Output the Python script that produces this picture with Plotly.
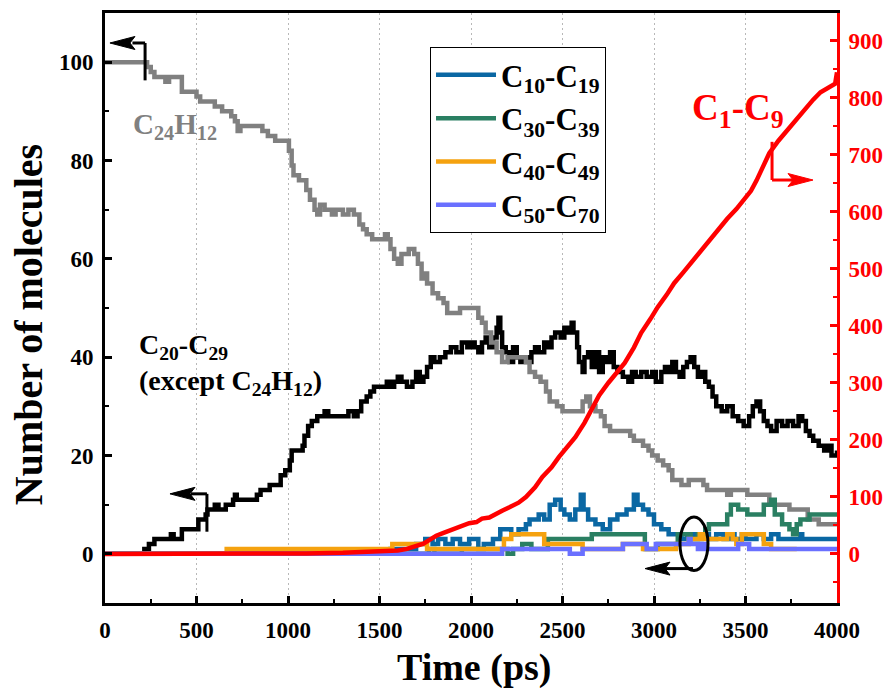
import plotly.graph_objects as go

# ---------------- data ----------------
t_gray = [0,230,250,270,330,350,420,500,520,600,640,690,710,725,740,860,890,930,1005,1020,1030,1060,1100,1120,1145,1160,1175,1200,1240,1260,1300,1330,1360,1390,1410,1430,1460,1530,1545,1560,1580,1600,1620,1660,1690,1710,1730,1745,1760,1790,1820,1850,1870,1940,2020,2040,2060,2080,2110,2140,2170,2200,2300,2320,2350,2380,2410,2430,2470,2500,2590,2610,2630,2650,2680,2710,2730,2760,2870,2890,2940,2970,2990,3020,3050,3080,3100,3150,3190,3270,3290,3400,3420,3450,3510,3630,3740,3840,3900,4000]
v_gray = [100,99,98,97,96,97,94,93,92,91,90,89,88,86,87,86,85,84,82,79,77,76,74,72,70,69,71,70,69,70,69,70,69,67,66,65,64,65,64,62,60,59,61,62,61,59,56,57,55,53,52,51,49,50,50,48,47,45,43,41,39,40,39,37,36,35,33,31,30,29,29,31,32,30,29,28,26,25,24,23,22,21,20,19,18,17,15,14,15,14,13,12,13,13,12,10,9,7,6,6]

t_black = [0,215,240,270,350,360,375,420,510,550,560,600,620,660,700,710,720,830,850,900,960,985,1010,1020,1080,1090,1110,1130,1160,1200,1220,1300,1330,1360,1380,1400,1430,1450,1470,1540,1560,1580,1600,1620,1650,1680,1700,1720,1740,1760,1780,1800,1830,1860,1890,1920,1950,1980,2000,2020,2040,2060,2080,2100,2120,2140,2150,2160,2170,2190,2210,2230,2250,2270,2290,2310,2330,2350,2370,2400,2420,2440,2460,2490,2510,2530,2550,2560,2580,2590,2610,2620,2640,2660,2680,2700,2720,2740,2760,2780,2800,2830,2860,2880,2900,2930,2960,2990,3010,3040,3060,3080,3100,3120,3140,3160,3180,3200,3220,3240,3260,3280,3300,3320,3340,3370,3400,3430,3460,3490,3520,3540,3560,3580,3600,3620,3640,3670,3700,3730,3760,3790,3810,3830,3850,3870,3900,3930,3950,3970,4000]
v_black = [0,1,2,3,3,4,3,5,7,8,9,10,9,10,11,12,11,12,13,14,16,17,19,21,22,24,26,27,28,29,28,28,29,28,29,31,32,33,34,35,34,35,36,35,34,35,37,35,36,38,40,39,40,41,42,41,43,42,43,42,41,43,44,42,44,46,48,45,42,41,39,42,40,39,40,39,41,42,41,43,42,44,45,44,46,45,47,45,42,39,37,40,41,38,41,37,40,39,41,38,37,36,35,37,36,37,36,37,35,37,38,37,39,37,36,38,39,40,38,36,37,35,34,32,30,29,30,28,27,26,28,30,31,29,27,26,25,27,26,27,26,28,27,25,24,23,22,21,22,20,21]

t_c10 = [0,1560,1700,1750,1790,1820,1860,1900,1940,1990,2040,2070,2120,2160,2220,2260,2300,2320,2370,2400,2430,2460,2490,2510,2540,2570,2600,2615,2640,2680,2720,2760,2800,2850,2890,2910,2940,2970,3000,3040,3080,3150,3180,3220,3260,3300,3340,3380,3420,3440,3480,3500,3560,3600,3640,3680,3800,3810,4000]
v_c10 = [0,1,2,3,2,3,2,3,2,3,1,2,3,5,4,5,6,7,8,7,10,11,9,8,7,9,12,9,7,6,5,7,8,9,12,10,9,8,6,5,4,3,4,3,4,3,4,3,4,3,4,3,4,3,4,3,4,3,3]

t_c30 = [0,1770,1800,1950,2200,2230,2280,2330,2420,2660,2950,3020,3130,3200,3240,3280,3300,3400,3420,3460,3510,3600,3640,3660,3700,3740,3760,3780,3800,3850,4000]
v_c30 = [0,1,0,1,0,1,2,1,3,4,1,2,4,3,4,5,6,8,10,9,8,10,11,8,6,5,4,6,7,8,8]

t_c40 = [0,665,1570,1760,2180,2220,2400,2610,2830,2940,3120,3190,3250,3270,3400,3430,3450,3480,3600,3640,3780]
v_c40 = [0,1,2,1,3,4,2,1,2,1,2,3,4,3,4,3,2,4,2,1,1]

t_c50 = [0,2170,2540,2610,2830,2960,3010,3190,3200,3240,3260,3280,3460,3520,4000]
v_c50 = [0,1,0,1,2,1,2,3,2,1,2,1,2,1,1]

t_red = [0,1000,1100,1300,1500,1600,1650,1700,1740,1780,1810,1850,1900,1950,1990,2030,2060,2100,2130,2170,2210,2260,2300,2350,2390,2440,2480,2530,2570,2620,2660,2700,2750,2800,2840,2890,2930,2980,3020,3070,3110,3160,3200,3250,3290,3330,3400,3450,3490,3530,3560,3600,3630,3680,3730,3790,3840,3870,3910,3960,3990,4000]
v_red = [0,0,1,2,4,6,9,13,18,26,32,37,43,48,54,56,62,64,70,76,82,90,100,117,135,152,170,188,205,230,253,278,300,318,335,362,388,412,433,455,475,494,510,528,545,560,588,605,620,637,655,682,703,725,744,768,784,797,810,820,825,845]

x_ticks = [0, 500, 1000, 1500, 2000, 2500, 3000, 3500, 4000]

FONT = "Liberation Serif"
LW = 4.5

fig = go.Figure()

fig.add_trace(go.Scatter(x=t_black, y=v_black, mode="lines", line=dict(color="black", width=LW, shape="hv"),
                         showlegend=False, name="C20-C29"))
fig.add_trace(go.Scatter(x=t_gray, y=v_gray, mode="lines", line=dict(color="#808080", width=LW, shape="hv"),
                         showlegend=False, name="C24H12"))
fig.add_trace(go.Scatter(x=t_c10, y=v_c10, mode="lines", line=dict(color="#0a67a3", width=LW, shape="hv"),
                         name="C<sub>10</sub>-C<sub>19</sub>"))
fig.add_trace(go.Scatter(x=t_c30, y=v_c30, mode="lines", line=dict(color="#2a7f62", width=LW, shape="hv"),
                         name="C<sub>30</sub>-C<sub>39</sub>"))
fig.add_trace(go.Scatter(x=t_c40, y=v_c40, mode="lines", line=dict(color="#f5a20f", width=LW, shape="hv"),
                         name="C<sub>40</sub>-C<sub>49</sub>"))
fig.add_trace(go.Scatter(x=t_c50, y=v_c50, mode="lines", line=dict(color="#6a70ff", width=LW, shape="hv"),
                         name="C<sub>50</sub>-C<sub>70</sub>"))
fig.add_trace(go.Scatter(x=t_red, y=v_red, mode="lines", line=dict(color="red", width=LW),
                         showlegend=False, name="C1-C9", yaxis="y2"))

tickfont = dict(family=FONT, size=23, color="black", weight="bold")

fig.update_layout(
    width=888, height=688,
    margin=dict(l=105, r=51, t=13, b=85),
    paper_bgcolor="white", plot_bgcolor="white",
    xaxis=dict(range=[0, 4000], tickvals=x_ticks, ticks="inside", ticklen=7, tickwidth=3, tickcolor="black",
               showline=True, linewidth=3, linecolor="black", mirror=True,
               showgrid=True, gridcolor="#b8b8b8", griddash="2px,3px", gridwidth=1, zeroline=False,
               minor=dict(ticks="inside", ticklen=4, tickwidth=2, dtick=250, tick0=0, showgrid=False, tickcolor="black"),
               tickfont=tickfont, automargin=False, ticklabelstandoff=4),
    yaxis=dict(range=[-10, 110], tick0=0, dtick=20, ticks="inside", ticklen=7, tickwidth=3, tickcolor="black",
               showline=True, linewidth=3, linecolor="black", showgrid=False, zeroline=False,
               minor=dict(ticks="inside", ticklen=4, tickwidth=2, dtick=10, tick0=0, showgrid=False, tickcolor="black"),
               tickfont=tickfont, automargin=False, ticklabelstandoff=4),
    yaxis2=dict(range=[-86, 949], tick0=0, dtick=100, overlaying="y", side="right", ticks="inside", ticklen=7,
                tickwidth=3, tickcolor="red", showline=True, linewidth=3, linecolor="red", showgrid=False,
                zeroline=False,
                minor=dict(ticks="inside", ticklen=4, tickwidth=2, dtick=50, tick0=0, showgrid=False, tickcolor="red"),
                tickfont=dict(family=FONT, size=23, color="red", weight="bold"), automargin=False,
                ticklabelstandoff=4),
    legend=dict(x=0.444, y=0.942, xanchor="left", yanchor="top", bgcolor="white", bordercolor="black",
                borderwidth=1, font=dict(family=FONT, size=31, color="black", weight="bold"),
                tracegroupgap=0, itemwidth=60),
    showlegend=True,
)

annotations = [
    dict(text="Number of molecules", xref="paper", yref="paper", x=-0.105, y=0.471, textangle=-90,
         xanchor="center", yanchor="middle",
         showarrow=False, font=dict(family=FONT, size=40, color="black", weight="bold")),
    dict(text="Time (ps)", xref="paper", yref="paper", x=0.504, y=-0.110, xanchor="center", yanchor="middle",
         showarrow=False, font=dict(family=FONT, size=38, color="black", weight="bold")),
    dict(text="C<sub>24</sub>H<sub>12</sub>", xref="x", yref="y", x=383, y=87, showarrow=False,
         font=dict(family=FONT, size=29, color="#808080", weight="bold")),
    dict(text="C<sub>20</sub>-C<sub>29</sub><br>(except C<sub>24</sub>H<sub>12</sub>)", xref="x", yref="y",
         x=175, y=38.5, xanchor="left", align="left", showarrow=False,
         font=dict(family=FONT, size=28, color="black", weight="bold")),
    dict(text="C<sub>1</sub>-C<sub>9</sub>", xref="x", yref="y2", x=3459, y=778, showarrow=False,
         font=dict(family=FONT, size=37, color="red", weight="bold")),
]
fig.update_layout(annotations=annotations)

def seg(x0, y0, x1, y1, color="black", yref="y"):
    return dict(type="line", xref="x", yref=yref, x0=x0, y0=y0, x1=x1, y1=y1,
                line=dict(color=color, width=3))

def head(x, y, direction, color="black", yref="y"):
    s = 1 if direction == "left" else -1
    p = f"M0,0 L{25*s},6.5 L{20*s},0 L{25*s},-6.5 Z"
    return dict(type="path", xref="x", yref=yref, xsizemode="pixel", ysizemode="pixel",
                xanchor=x, yanchor=y, path=p, fillcolor=color, line=dict(color=color, width=1))

shapes = [
    # arrow for C24H12 -> left axis
    seg(219, 96.3, 219, 103.9), seg(219, 103.9, 150, 103.9), head(27, 103.9, "left"),
    # arrow for C20-C29 -> left axis
    seg(557, 4.5, 557, 12.2), seg(557, 12.2, 470, 12.2), head(355, 12.2, "left"),
    # arrow for C1-C9 -> right axis
    seg(3645, 723, 3645, 656, "red", "y2"), seg(3645, 656, 3760, 656, "red", "y2"),
    head(3869, 656, "right", "red", "y2"),
    # ellipse + arrow
    dict(type="circle", xref="x", yref="y", x0=3142, x1=3295, y0=-3.4, y1=7.5,
         line=dict(color="black", width=3)),
    seg(3213, -3.0, 3060, -3.0), head(2951, -3.0, "left"),
]
fig.update_layout(shapes=shapes)

fig.write_html("out.html")
